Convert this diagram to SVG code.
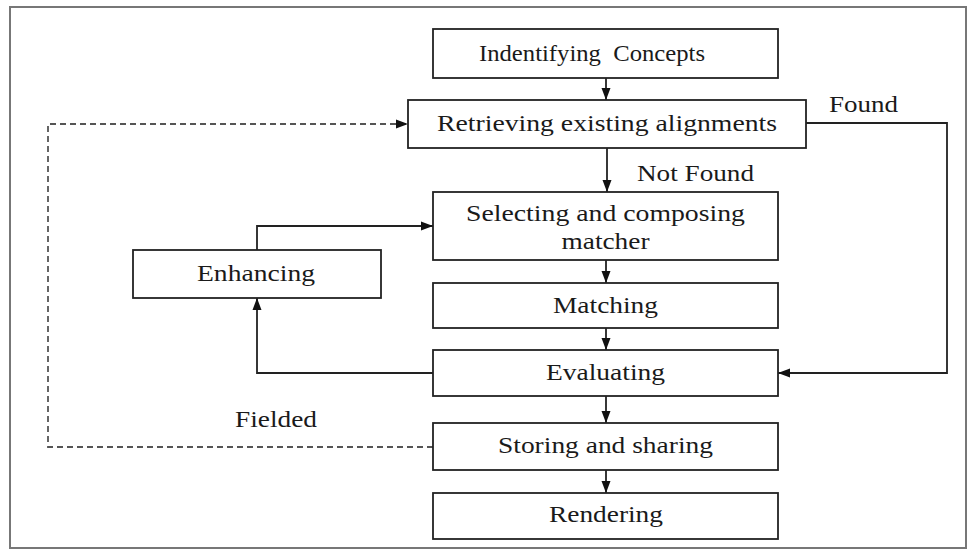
<svg xmlns="http://www.w3.org/2000/svg" width="968" height="550" viewBox="0 0 968 550">
<style>
.box{fill:#fff;stroke:#222;stroke-width:1.8}
.t{font-family:"Liberation Serif","Times New Roman",serif;font-size:24px;fill:#1a1a1a;text-anchor:middle;white-space:pre}
.l{font-family:"Liberation Serif","Times New Roman",serif;font-size:24px;fill:#1a1a1a;white-space:pre}
.c{fill:none;stroke:#222;stroke-width:1.8}
.d{fill:none;stroke:#555;stroke-width:1.8;stroke-dasharray:6 4}
</style>
<defs>
<marker id="ah" markerUnits="userSpaceOnUse" markerWidth="12" markerHeight="12" viewBox="0 0 12 12" refX="12" refY="6" orient="auto">
<path d="M0 1.5 L12 6 L0 10.5 Z" fill="#111"/>
</marker>
</defs>
<rect x="10" y="7" width="956" height="541" fill="#fff" stroke="#777" stroke-width="2"/>
<g id="connectors">
<path class="c" d="M606 78 V100" marker-end="url(#ah)"/>
<path class="c" d="M607 148 V192" marker-end="url(#ah)"/>
<path class="c" d="M806 123 H947 V373 H778" marker-end="url(#ah)"/>
<path class="d" d="M433 447 H48 V124 H408" marker-end="url(#ah)"/>
<path class="c" d="M257 250 V226 H433" marker-end="url(#ah)"/>
<path class="c" d="M606 260 V283" marker-end="url(#ah)"/>
<path class="c" d="M606 328 V350" marker-end="url(#ah)"/>
<path class="c" d="M433 373 H257 V298" marker-end="url(#ah)"/>
<path class="c" d="M606 396 V423" marker-end="url(#ah)"/>
<path class="c" d="M606 470 V493" marker-end="url(#ah)"/>
<text class="l" x="829" y="112" textLength="69" lengthAdjust="spacingAndGlyphs">Found</text>
<text class="l" x="637" y="181" textLength="117" lengthAdjust="spacingAndGlyphs">Not Found</text>
<text class="l" x="235" y="427" textLength="82" lengthAdjust="spacingAndGlyphs">Fielded</text>
</g>
<g id="identifying">
<rect class="box" x="433" y="29" width="345" height="49"/>
<text class="t" x="592" y="61" textLength="226" lengthAdjust="spacingAndGlyphs">Indentifying  Concepts</text>
</g>
<g id="retrieving">
<rect class="box" x="408" y="100" width="398" height="48"/>
<text class="t" x="607" y="131" textLength="340" lengthAdjust="spacingAndGlyphs">Retrieving existing alignments</text>
</g>
<g id="selecting">
<rect class="box" x="433" y="192" width="345" height="68"/>
<text class="t" x="605.5" y="221" textLength="279" lengthAdjust="spacingAndGlyphs">Selecting and composing</text>
<text class="t" x="605.5" y="249" textLength="88" lengthAdjust="spacingAndGlyphs">matcher</text>
</g>
<g id="enhancing">
<rect class="box" x="133" y="250" width="248" height="48"/>
<text class="t" x="256" y="281" textLength="118" lengthAdjust="spacingAndGlyphs">Enhancing</text>
</g>
<g id="matching">
<rect class="box" x="433" y="283" width="345" height="45"/>
<text class="t" x="605.5" y="313" textLength="105" lengthAdjust="spacingAndGlyphs">Matching</text>
</g>
<g id="evaluating">
<rect class="box" x="433" y="350" width="345" height="46"/>
<text class="t" x="605.5" y="380" textLength="119" lengthAdjust="spacingAndGlyphs">Evaluating</text>
</g>
<g id="storing">
<rect class="box" x="433" y="423" width="345" height="47"/>
<text class="t" x="605.5" y="453" textLength="215" lengthAdjust="spacingAndGlyphs">Storing and sharing</text>
</g>
<g id="rendering">
<rect class="box" x="433" y="493" width="345" height="46"/>
<text class="t" x="606" y="522" textLength="114" lengthAdjust="spacingAndGlyphs">Rendering</text>
</g>
</svg>
